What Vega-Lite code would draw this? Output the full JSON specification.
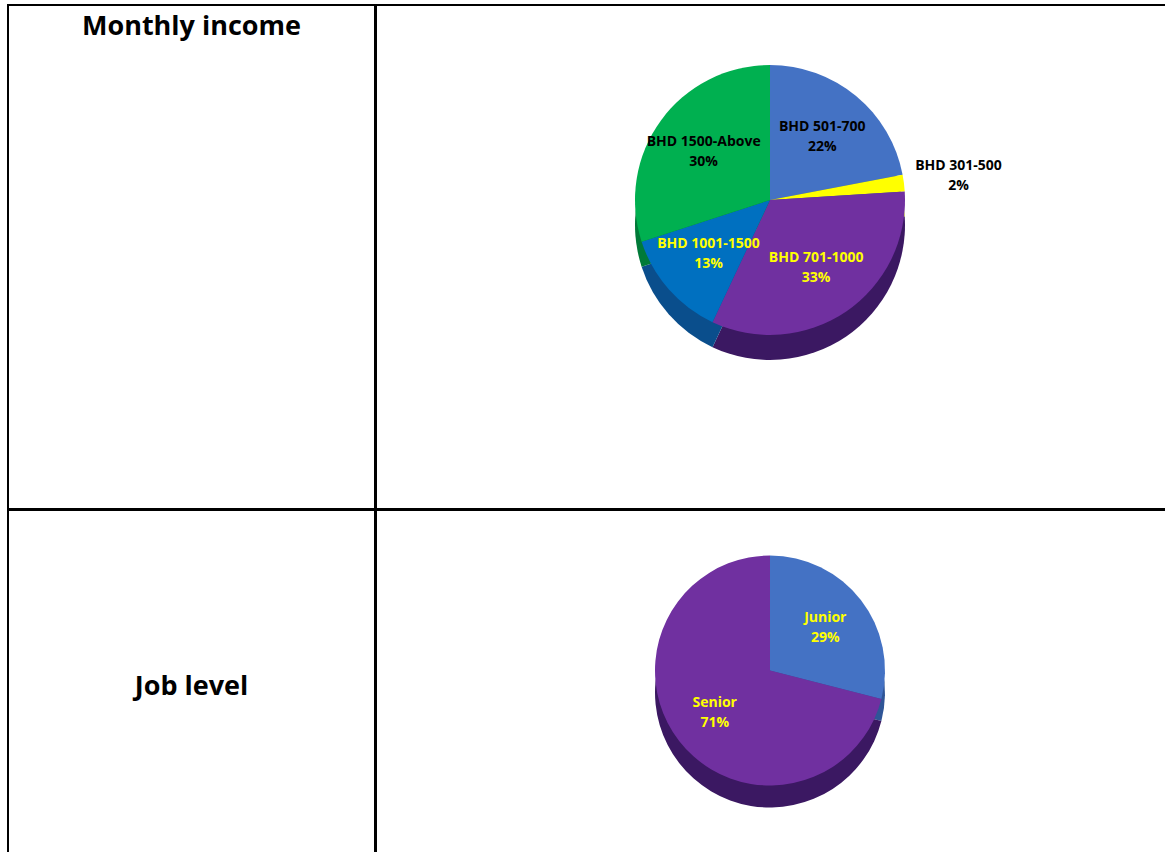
{
  "$schema": "https://vega.github.io/schema/vega-lite/v6.json",
  "padding": {"left": 7, "top": 4, "right": 0, "bottom": 0},
  "background": "white",
  "spacing": -4,
  "config": {
    "view": {"stroke": "black", "strokeWidth": 2},
    "font": "Open Sans"
  },
  "datasets": {
    "income": [
      {"band": "BHD 501-700", "share": 0.22, "rank": 1},
      {"band": "BHD 301-500", "share": 0.02, "rank": 2},
      {"band": "BHD 701-1000", "share": 0.33, "rank": 3},
      {"band": "BHD 1001-1500", "share": 0.13, "rank": 4},
      {"band": "BHD 1500-Above", "share": 0.30, "rank": 5}
    ],
    "job": [
      {"level": "Junior", "share": 0.29, "rank": 1},
      {"level": "Senior", "share": 0.71, "rank": 2}
    ]
  },
  "vconcat": [
    {
      "spacing": -4,
      "hconcat": [
        {
          "width": 367,
          "height": 504,
          "view": {"stroke": "black", "strokeWidth": 2},
          "data": {"values": [{"label": "Monthly income"}]},
          "mark": {"type": "text", "fontSize": 27, "fontWeight": "bold", "font": "Open Sans", "dy": -230, "baseline": "middle", "align": "center", "color": "black"},
          "encoding": {"text": {"field": "label", "type": "nominal"}}
        },
        {
          "width": 796,
          "height": 504,
          "view": {"stroke": "black", "strokeWidth": 2},
          "data": {"name": "income"},
          "encoding": {
            "theta": {"field": "share", "type": "quantitative", "stack": true},
            "order": {"field": "rank", "type": "quantitative"}
          },
          "layer": [
            {
              "mark": {"type": "arc", "outerRadius": 135, "yOffset": -32, "xOffset": -4},
              "encoding": {
                "color": {
                  "field": "band", "type": "nominal", "legend": null,
                  "scale": {
                    "domain": ["BHD 501-700", "BHD 301-500", "BHD 701-1000", "BHD 1001-1500", "BHD 1500-Above"],
                    "range": ["#2F5597", "#B5B500", "#3B1862", "#0A4E8C", "#007A38"]
                  }
                }
              }
            },
            {
              "mark": {"type": "arc", "outerRadius": 135, "yOffset": -57, "xOffset": -4},
              "encoding": {
                "color": {
                  "field": "band", "type": "nominal", "legend": null,
                  "scale": {
                    "domain": ["BHD 501-700", "BHD 301-500", "BHD 701-1000", "BHD 1001-1500", "BHD 1500-Above"],
                    "range": ["#4472C4", "#FFFF00", "#7030A0", "#0070C0", "#00B050"]
                  }
                }
              }
            },
            {
              "mark": {"type": "text", "radius": 82, "yOffset": -57, "xOffset": -4, "dy": -10, "fontSize": 14, "fontWeight": "bold", "font": "Open Sans"},
              "encoding": {
                "text": {"condition": {"test": "datum.band !== 'BHD 301-500'", "field": "band", "type": "nominal"}, "value": ""},
                "color": {"condition": {"test": "datum.band === 'BHD 701-1000' || datum.band === 'BHD 1001-1500'", "value": "#FFFF00"}, "value": "black"}
              }
            },
            {
              "mark": {"type": "text", "radius": 82, "yOffset": -57, "xOffset": -4, "dy": 10, "fontSize": 14, "fontWeight": "bold", "font": "Open Sans"},
              "encoding": {
                "text": {"condition": {"test": "datum.band !== 'BHD 301-500'", "field": "share", "type": "quantitative", "format": ".0%"}, "value": ""},
                "color": {"condition": {"test": "datum.band === 'BHD 701-1000' || datum.band === 'BHD 1001-1500'", "value": "#FFFF00"}, "value": "black"}
              }
            },
            {
              "mark": {"type": "text", "radius": 190, "yOffset": -57, "xOffset": -4, "dy": -10, "fontSize": 14, "fontWeight": "bold", "font": "Open Sans", "color": "black"},
              "encoding": {
                "text": {"condition": {"test": "datum.band === 'BHD 301-500'", "field": "band", "type": "nominal"}, "value": ""}
              }
            },
            {
              "mark": {"type": "text", "radius": 190, "yOffset": -57, "xOffset": -4, "dy": 10, "fontSize": 14, "fontWeight": "bold", "font": "Open Sans", "color": "black"},
              "encoding": {
                "text": {"condition": {"test": "datum.band === 'BHD 301-500'", "field": "share", "type": "quantitative", "format": ".0%"}, "value": ""}
              }
            }
          ],
          "resolve": {"scale": {"color": "independent"}}
        }
      ]
    },
    {
      "spacing": -4,
      "hconcat": [
        {
          "width": 367,
          "height": 349,
          "view": {"stroke": "black", "strokeWidth": 2},
          "data": {"values": [{"label": "Job level"}]},
          "mark": {"type": "text", "fontSize": 27, "fontWeight": "bold", "font": "Open Sans", "dy": 2, "baseline": "middle", "align": "center", "color": "black"},
          "encoding": {"text": {"field": "label", "type": "nominal"}}
        },
        {
          "width": 796,
          "height": 349,
          "view": {"stroke": "black", "strokeWidth": 2},
          "data": {"name": "job"},
          "encoding": {
            "theta": {"field": "share", "type": "quantitative", "stack": true},
            "order": {"field": "rank", "type": "quantitative"}
          },
          "layer": [
            {
              "mark": {"type": "arc", "outerRadius": 115, "yOffset": 8, "xOffset": -4},
              "encoding": {
                "color": {
                  "field": "level", "type": "nominal", "legend": null,
                  "scale": {"domain": ["Junior", "Senior"], "range": ["#2F5597", "#3B1862"]}
                }
              }
            },
            {
              "mark": {"type": "arc", "outerRadius": 115, "yOffset": -14, "xOffset": -4},
              "encoding": {
                "color": {
                  "field": "level", "type": "nominal", "legend": null,
                  "scale": {"domain": ["Junior", "Senior"], "range": ["#4472C4", "#7030A0"]}
                }
              }
            },
            {
              "mark": {"type": "text", "radius": 70, "yOffset": -14, "xOffset": -4, "dy": -10, "fontSize": 14, "fontWeight": "bold", "font": "Open Sans", "color": "#FFFF00"},
              "encoding": {"text": {"field": "level", "type": "nominal"}}
            },
            {
              "mark": {"type": "text", "radius": 70, "yOffset": -14, "xOffset": -4, "dy": 10, "fontSize": 14, "fontWeight": "bold", "font": "Open Sans", "color": "#FFFF00"},
              "encoding": {"text": {"field": "share", "type": "quantitative", "format": ".0%"}}
            }
          ],
          "resolve": {"scale": {"color": "independent"}}
        }
      ]
    }
  ]
}
